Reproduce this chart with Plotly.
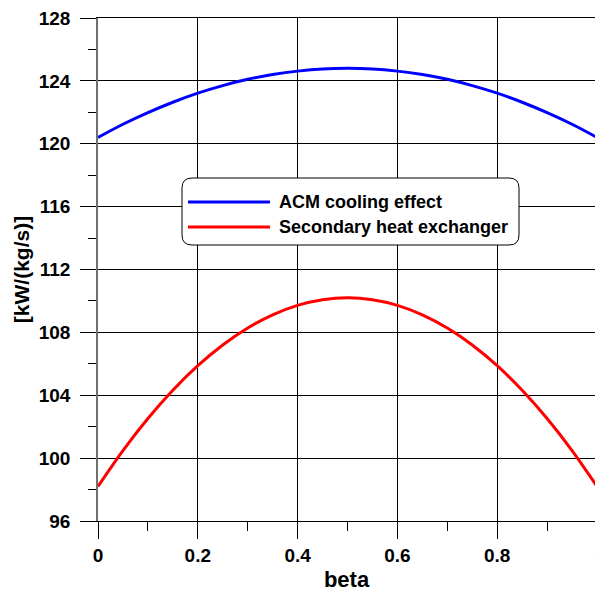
import plotly.graph_objects as go

# Mass-flow split between the two branches
beta = [0.0, 0.05, 0.10, 0.15, 0.20, 0.25, 0.30, 0.35, 0.40, 0.45, 0.50,
        0.55, 0.60, 0.65, 0.70, 0.75, 0.80, 0.85, 0.90, 0.95, 1.0]

# Specific duties in kW/(kg/s)
acm_cooling = [120.40, 121.24, 121.98, 122.64, 123.22, 123.70, 124.10, 124.40,
               124.62, 124.76, 124.80, 124.76, 124.62, 124.40, 124.10, 123.70,
               123.22, 122.64, 121.98, 121.24, 120.40]
secondary_hx = [98.20, 100.48, 102.52, 104.32, 105.88, 107.20, 108.28, 109.12,
                109.72, 110.08, 110.20, 110.08, 109.72, 109.12, 108.28, 107.20,
                105.88, 104.32, 102.52, 100.48, 98.20]

series_names = ["ACM cooling effect", "Secondary heat exchanger"]
series_colors = ["#0000FF", "#FF0000"]

x_ticks = [0.0, 0.2, 0.4, 0.6, 0.8]
x_tick_text = ["0", "0.2", "0.4", "0.6", "0.8"]
x_minor = [0.1, 0.3, 0.5, 0.7, 0.9]

W, H = 595, 592
ML, MR, MT, MB = 98, 0, 18, 71
PW, PH = W - ML - MR, H - MT - MB


def px(x):
    return (x - ML) / PW


def py(y):
    return (H - MB - y) / PH


FONT = "Liberation Sans, Arial, sans-serif"

fig = go.Figure()
for name, ys, col in zip(series_names, [acm_cooling, secondary_hx], series_colors):
    fig.add_trace(go.Scatter(x=beta, y=ys, mode="lines", name=name,
                             line=dict(color=col, width=3, shape="spline"),
                             showlegend=False))

fig.update_layout(
    width=W, height=H,
    margin=dict(l=ML, r=MR, t=MT, b=MB, pad=0),
    paper_bgcolor="white", plot_bgcolor="white",
    font=dict(family=FONT, color="black"),
    xaxis=dict(
        range=[0, 0.996], tickmode="array", tickvals=x_ticks, ticktext=x_tick_text,
        ticks="outside", ticklen=17, tickcolor="black", tickwidth=1,
        showgrid=True, gridcolor="black", gridwidth=1,
        showline=True, linecolor="black", linewidth=1, mirror=True,
        zeroline=False,
        tickfont=dict(size=19, family=FONT, weight="bold"),
        title=dict(text="<b>beta</b>", font=dict(size=22), standoff=7),
        minor=dict(tickmode="array", tickvals=x_minor, ticks="outside",
                   ticklen=9, tickcolor="black", showgrid=False),
    ),
    yaxis=dict(
        range=[96, 128], dtick=4, tick0=96,
        ticks="outside", ticklen=16, tickcolor="black", tickwidth=1,
        showgrid=True, gridcolor="black", gridwidth=1,
        showline=True, linecolor="#707070", linewidth=1.5, mirror=False,
        zeroline=False, ticklabelstandoff=6,
        tickfont=dict(size=19, family=FONT, weight="bold"),
        title=dict(text="<b>[kW/(kg/s)]</b>", font=dict(size=21), standoff=3),
        minor=dict(dtick=2, ticks="outside", ticklen=8, tickcolor="black",
                   showgrid=False),
    ),
)

# Label for the last tick, which sits on the right page edge
fig.add_annotation(x=px(599), y=py(549), xref="paper", yref="paper",
                   text="<b>1</b>", showarrow=False, xanchor="center",
                   yanchor="middle", font=dict(size=19, family=FONT))

# Legend box with rounded corners
x0, x1, y0, y1, r = 182, 519, 178, 245, 10
path = (f"M {px(x0 + r)} {py(y0)} L {px(x1 - r)} {py(y0)} "
        f"Q {px(x1)} {py(y0)} {px(x1)} {py(y0 + r)} "
        f"L {px(x1)} {py(y1 - r)} Q {px(x1)} {py(y1)} {px(x1 - r)} {py(y1)} "
        f"L {px(x0 + r)} {py(y1)} Q {px(x0)} {py(y1)} {px(x0)} {py(y1 - r)} "
        f"L {px(x0)} {py(y0 + r)} Q {px(x0)} {py(y0)} {px(x0 + r)} {py(y0)} Z")
fig.add_shape(type="path", path=path, xref="paper", yref="paper",
              fillcolor="white", line=dict(color="black", width=1), layer="above")

for i, (name, col) in enumerate(zip(series_names, series_colors)):
    yc = 202 + 25 * i
    fig.add_shape(type="line", xref="paper", yref="paper",
                  x0=px(188), x1=px(270), y0=py(yc), y1=py(yc),
                  line=dict(color=col, width=3), layer="above")
    fig.add_annotation(x=px(277), y=py(yc), xref="paper", yref="paper",
                       text=f"<b>{name}</b>", showarrow=False, xanchor="left",
                       yanchor="middle", font=dict(size=18, family=FONT))

fig.write_html("out.html")
